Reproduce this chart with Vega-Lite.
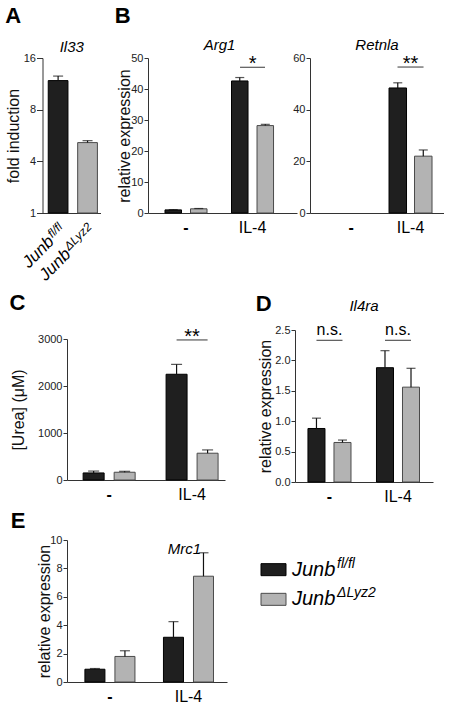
{
  "$schema": "https://vega.github.io/schema/vega-lite/v6.json",
  "background": "white",
  "padding": {"left": 5, "top": 5, "right": 0, "bottom": 0},
  "datasets": {
    "a": [{"geno": "fl", "v": 12.5, "e": 13.2}, {"geno": "d", "v": 5.45, "e": 5.6}],
    "alab": [{"geno": "fl", "main": "Junb", "sup": "fl/fl"}, {"geno": "d", "main": "Junb", "sup": "ΔLyz2"}],
    "arg1": [{"cond": "-", "geno": "fl", "v": 1.0, "e": 1.1}, {"cond": "-", "geno": "d", "v": 1.35, "e": 1.45}, {"cond": "IL-4", "geno": "fl", "v": 42.6, "e": 43.7}, {"cond": "IL-4", "geno": "d", "v": 28.2, "e": 28.6}],
    "arg1sig": [{"cond": "IL-4", "v": 47, "t": "*"}],
    "retnla": [{"cond": "IL-4", "geno": "fl", "v": 48.4, "e": 50.4}, {"cond": "IL-4", "geno": "d", "v": 22, "e": 24.4}],
    "retnlasig": [{"cond": "IL-4", "v": 56.5, "t": "**"}],
    "urea": [{"cond": "-", "geno": "fl", "v": 150, "e": 190}, {"cond": "-", "geno": "d", "v": 165, "e": 185}, {"cond": "IL-4", "geno": "fl", "v": 2250, "e": 2460}, {"cond": "IL-4", "geno": "d", "v": 570, "e": 640}],
    "ureasig": [{"cond": "IL-4", "v": 2980, "t": "**"}],
    "il4ra": [{"cond": "-", "geno": "fl", "v": 0.88, "e": 1.05}, {"cond": "-", "geno": "d", "v": 0.65, "e": 0.69}, {"cond": "IL-4", "geno": "fl", "v": 1.88, "e": 2.16}, {"cond": "IL-4", "geno": "d", "v": 1.56, "e": 1.87}],
    "il4rasig": [{"cond": "-", "v": 2.33, "t": "n.s."}, {"cond": "IL-4", "v": 2.33, "t": "n.s."}],
    "mrc1": [{"cond": "-", "geno": "fl", "v": 0.9, "e": 0.95}, {"cond": "-", "geno": "d", "v": 1.8, "e": 2.2}, {"cond": "IL-4", "geno": "fl", "v": 3.15, "e": 4.25}, {"cond": "IL-4", "geno": "d", "v": 7.45, "e": 9.1}]
  },
  "resolve": {"scale": {"xOffset": "independent"}},
  "spacing": 7,
  "vconcat": [
    {
      "resolve": {"scale": {"xOffset": "independent"}},
      "spacing": -11,
      "hconcat": [
        {
          "width": 33.5, "height": 155,
          "title": {"text": "A", "dx": 0, "dy": -8},
          "data": {"name": "a"},
          "layer": [
            {
              "mark": {"type": "bar", "strokeWidth": 1},
              "encoding": {
                "x": {"field": "geno", "type": "nominal", "scale": {"domain": ["fl", "d"], "range": [-24.5, 33.5], "paddingInner": 0.33, "paddingOuter": 0.15, "align": 0.65}, "axis": {"labels": false, "ticks": false, "title": null}},
                "y": {"field": "v", "type": "quantitative", "scale": {"type": "linear", "domain": [1, 4, 8, 16], "range": [155, 103.33, 51.67, 0], "zero": false, "nice": false}, "axis": {"values": [1, 4, 8, 16], "tickCount": 20, "format": "d", "title": "fold induction", "tickSize": 6, "offset": 24.5, "titlePadding": 2, "labelOverlap": false}},
                "y2": {"datum": 1},
                "fill": {"field": "geno", "type": "nominal", "scale": {"domain": ["fl", "d"], "range": ["#1f1f1f", "#b3b3b3"]}, "legend": null},
                "stroke": {"field": "geno", "type": "nominal", "scale": {"domain": ["fl", "d"], "range": ["#000000", "#4a4a4a"]}, "legend": null}
              }
            },
            {
              "mark": {"type": "rule", "color": "#111", "strokeWidth": 1.2},
              "encoding": {"x": {"field": "geno", "type": "nominal"}, "y": {"field": "v", "type": "quantitative"}, "y2": {"field": "e"}}
            },
            {
              "mark": {"type": "tick", "color": "#111", "thickness": 1.2, "size": 10, "orient": "horizontal"},
              "encoding": {"x": {"field": "geno", "type": "nominal"}, "y": {"field": "e", "type": "quantitative"}}
            },
            {
              "data": {"name": "alab"},
              "mark": {"type": "text", "angle": 315, "align": "right", "baseline": "alphabetic", "fontSize": 12, "fontStyle": "italic", "dx": -6.7, "dy": 13.8},
              "encoding": {"x": {"field": "geno", "type": "nominal"}, "y": {"datum": 1}, "text": {"field": "sup"}}
            },
            {
              "data": {"name": "alab"},
              "transform": [{"filter": "datum.geno === 'fl'"}],
              "mark": {"type": "text", "angle": 315, "align": "right", "baseline": "alphabetic", "fontSize": 17, "fontStyle": "italic", "dx": -23.1, "dy": 18.8},
              "encoding": {"x": {"field": "geno", "type": "nominal"}, "y": {"datum": 1}, "text": {"field": "main"}}
            },
            {
              "data": {"name": "alab"},
              "transform": [{"filter": "datum.geno === 'd'"}],
              "mark": {"type": "text", "angle": 315, "align": "right", "baseline": "alphabetic", "fontSize": 17, "fontStyle": "italic", "dx": -41.1, "dy": 18.8},
              "encoding": {"x": {"field": "geno", "type": "nominal"}, "y": {"datum": 1}, "text": {"field": "main"}}
            },
            {
              "data": {"values": [{"g": "Il33"}]},
              "mark": {"type": "text", "fontSize": 15, "fontStyle": "italic", "baseline": "alphabetic", "dy": -6, "dx": -12},
              "encoding": {"y": {"datum": 16}, "text": {"field": "g"}}
            }
          ]
        },
        {
          "resolve": {"scale": {"xOffset": "independent"}},
          "spacing": -5,
          "hconcat": [
            {
              "width": 149, "height": 155,
              "title": {"text": "B", "dx": -2, "dy": -6},
              "data": {"name": "arg1"},
              "layer": [
                {
                  "mark": {"type": "bar", "strokeWidth": 1},
                  "encoding": {
                    "x": {"field": "cond", "type": "nominal", "scale": {"domain": ["-", "IL-4"], "paddingInner": 0.368, "paddingOuter": 0.304, "align": 0.42}, "axis": {"title": null}},
                    "xOffset": {"field": "geno", "type": "nominal", "scale": {"domain": ["fl", "d"], "paddingInner": 0.353, "paddingOuter": 0}},
                    "y": {"field": "v", "type": "quantitative", "scale": {"domain": [0, 50], "nice": false}, "axis": {"values": [0, 10, 20, 30, 40, 50], "tickCount": 20, "format": "d", "title": "relative expression", "titlePadding": -2, "labelOverlap": false}},
                    "fill": {"field": "geno", "type": "nominal", "legend": null},
                    "stroke": {"field": "geno", "type": "nominal", "legend": null}
                  }
                },
                {
                  "mark": {"type": "rule", "color": "#111", "strokeWidth": 1.2},
                  "encoding": {"x": {"field": "cond", "type": "nominal"}, "xOffset": {"field": "geno", "type": "nominal"}, "y": {"field": "v", "type": "quantitative"}, "y2": {"field": "e"}}
                },
                {
                  "mark": {"type": "tick", "color": "#111", "thickness": 1.2, "size": 9, "orient": "horizontal"},
                  "encoding": {"x": {"field": "cond", "type": "nominal"}, "xOffset": {"field": "geno", "type": "nominal"}, "y": {"field": "e", "type": "quantitative"}}
                },
                {
                  "data": {"name": "arg1sig"},
                  "mark": {"type": "tick", "color": "#111", "thickness": 1.2, "size": 25, "orient": "horizontal"},
                  "encoding": {"x": {"field": "cond", "type": "nominal"}, "y": {"field": "v", "type": "quantitative"}}
                },
                {
                  "data": {"name": "arg1sig"},
                  "mark": {"type": "text", "fontSize": 20, "baseline": "alphabetic", "dy": 3},
                  "encoding": {"x": {"field": "cond", "type": "nominal"}, "y": {"field": "v", "type": "quantitative"}, "text": {"field": "t"}}
                },
                {
                  "data": {"values": [{"g": "Arg1"}]},
                  "mark": {"type": "text", "fontSize": 15, "fontStyle": "italic", "baseline": "alphabetic", "dy": -8, "dx": -3},
                  "encoding": {"y": {"datum": 50}, "text": {"field": "g"}}
                }
              ]
            },
            {
              "width": 134, "height": 155,
              "data": {"name": "retnla"},
              "layer": [
                {
                  "mark": {"type": "bar", "strokeWidth": 1},
                  "encoding": {
                    "x": {"field": "cond", "type": "nominal", "scale": {"domain": ["-", "IL-4"], "paddingInner": 0.277, "paddingOuter": 0.265, "align": 0.62}, "axis": {"title": null}},
                    "xOffset": {"field": "geno", "type": "nominal", "scale": {"domain": ["fl", "d"], "paddingInner": 0.314, "paddingOuter": 0}},
                    "y": {"field": "v", "type": "quantitative", "scale": {"domain": [0, 60], "nice": false}, "axis": {"values": [0, 20, 40, 60], "tickCount": 20, "format": "d", "title": null, "labelOverlap": false}},
                    "fill": {"field": "geno", "type": "nominal", "legend": null},
                    "stroke": {"field": "geno", "type": "nominal", "legend": null}
                  }
                },
                {
                  "mark": {"type": "rule", "color": "#111", "strokeWidth": 1.2},
                  "encoding": {"x": {"field": "cond", "type": "nominal"}, "xOffset": {"field": "geno", "type": "nominal"}, "y": {"field": "v", "type": "quantitative"}, "y2": {"field": "e"}}
                },
                {
                  "mark": {"type": "tick", "color": "#111", "thickness": 1.2, "size": 9, "orient": "horizontal"},
                  "encoding": {"x": {"field": "cond", "type": "nominal"}, "xOffset": {"field": "geno", "type": "nominal"}, "y": {"field": "e", "type": "quantitative"}}
                },
                {
                  "data": {"name": "retnlasig"},
                  "mark": {"type": "tick", "color": "#111", "thickness": 1.2, "size": 26, "orient": "horizontal"},
                  "encoding": {"x": {"field": "cond", "type": "nominal"}, "y": {"field": "v", "type": "quantitative"}}
                },
                {
                  "data": {"name": "retnlasig"},
                  "mark": {"type": "text", "fontSize": 20, "baseline": "alphabetic", "dy": 3},
                  "encoding": {"x": {"field": "cond", "type": "nominal"}, "y": {"field": "v", "type": "quantitative"}, "text": {"field": "t"}}
                },
                {
                  "data": {"values": [{"g": "Retnla"}]},
                  "mark": {"type": "text", "fontSize": 15, "fontStyle": "italic", "baseline": "alphabetic", "dy": -8},
                  "encoding": {"y": {"datum": 60}, "text": {"field": "g"}}
                }
              ]
            }
          ]
        }
      ]
    },
    {
      "resolve": {"scale": {"xOffset": "independent"}},
      "spacing": 6,
      "vconcat": [
        {
          "resolve": {"scale": {"xOffset": "independent"}},
          "spacing": 30,
          "hconcat": [
            {
              "width": 158, "height": 150,
              "title": {"text": "C", "dx": -1, "dy": -8},
              "data": {"name": "urea"},
              "layer": [
                {
                  "mark": {"type": "bar", "strokeWidth": 1},
                  "encoding": {
                    "x": {"field": "cond", "type": "nominal", "scale": {"domain": ["-", "IL-4"], "paddingInner": 0.373, "paddingOuter": 0.139, "align": 0.7}, "axis": {"title": null}},
                    "xOffset": {"field": "geno", "type": "nominal", "scale": {"domain": ["fl", "d"], "paddingInner": 0.323, "paddingOuter": 0}},
                    "y": {"field": "v", "type": "quantitative", "scale": {"domain": [0, 3000], "range": [150, 9], "nice": false}, "axis": {"values": [0, 1000, 2000, 3000], "tickCount": 20, "format": "d", "title": "[Urea] (μM)", "titlePadding": 11, "labelOverlap": false}},
                    "fill": {"field": "geno", "type": "nominal", "legend": null},
                    "stroke": {"field": "geno", "type": "nominal", "legend": null}
                  }
                },
                {
                  "mark": {"type": "rule", "color": "#111", "strokeWidth": 1.2},
                  "encoding": {"x": {"field": "cond", "type": "nominal"}, "xOffset": {"field": "geno", "type": "nominal"}, "y": {"field": "v", "type": "quantitative"}, "y2": {"field": "e"}}
                },
                {
                  "mark": {"type": "tick", "color": "#111", "thickness": 1.2, "size": 11, "orient": "horizontal"},
                  "encoding": {"x": {"field": "cond", "type": "nominal"}, "xOffset": {"field": "geno", "type": "nominal"}, "y": {"field": "e", "type": "quantitative"}}
                },
                {
                  "data": {"name": "ureasig"},
                  "mark": {"type": "tick", "color": "#111", "thickness": 1.2, "size": 31, "orient": "horizontal"},
                  "encoding": {"x": {"field": "cond", "type": "nominal"}, "y": {"field": "v", "type": "quantitative"}}
                },
                {
                  "data": {"name": "ureasig"},
                  "mark": {"type": "text", "fontSize": 20, "baseline": "alphabetic", "dy": 3},
                  "encoding": {"x": {"field": "cond", "type": "nominal"}, "y": {"field": "v", "type": "quantitative"}, "text": {"field": "t"}}
                }
              ]
            },
            {
              "width": 138, "height": 152,
              "title": {"text": "D", "dx": -2, "dy": 21},
              "data": {"name": "il4ra"},
              "layer": [
                {
                  "mark": {"type": "bar", "strokeWidth": 1},
                  "encoding": {
                    "x": {"field": "cond", "type": "nominal", "scale": {"domain": ["-", "IL-4"], "paddingInner": 0.372, "paddingOuter": 0.193, "align": 0.49}, "axis": {"title": null}},
                    "xOffset": {"field": "geno", "type": "nominal", "scale": {"domain": ["fl", "d"], "paddingInner": 0.346, "paddingOuter": 0}},
                    "y": {"field": "v", "type": "quantitative", "scale": {"domain": [0, 2.5], "nice": false}, "axis": {"values": [0, 0.5, 1, 1.5, 2, 2.5], "tickCount": 20, "format": ".1f", "title": "relative expression", "titlePadding": 1, "labelOverlap": false}},
                    "fill": {"field": "geno", "type": "nominal", "legend": null},
                    "stroke": {"field": "geno", "type": "nominal", "legend": null}
                  }
                },
                {
                  "mark": {"type": "rule", "color": "#111", "strokeWidth": 1.2},
                  "encoding": {"x": {"field": "cond", "type": "nominal"}, "xOffset": {"field": "geno", "type": "nominal"}, "y": {"field": "v", "type": "quantitative"}, "y2": {"field": "e"}}
                },
                {
                  "mark": {"type": "tick", "color": "#111", "thickness": 1.2, "size": 9, "orient": "horizontal"},
                  "encoding": {"x": {"field": "cond", "type": "nominal"}, "xOffset": {"field": "geno", "type": "nominal"}, "y": {"field": "e", "type": "quantitative"}}
                },
                {
                  "data": {"name": "il4rasig"},
                  "mark": {"type": "tick", "color": "#111", "thickness": 1.2, "size": 26, "orient": "horizontal"},
                  "encoding": {"x": {"field": "cond", "type": "nominal"}, "y": {"field": "v", "type": "quantitative"}}
                },
                {
                  "data": {"name": "il4rasig"},
                  "mark": {"type": "text", "fontSize": 16, "baseline": "alphabetic", "dy": -5},
                  "encoding": {"x": {"field": "cond", "type": "nominal"}, "y": {"field": "v", "type": "quantitative"}, "text": {"field": "t"}}
                },
                {
                  "data": {"values": [{"g": "Il4ra"}]},
                  "mark": {"type": "text", "fontSize": 15, "fontStyle": "italic", "baseline": "alphabetic", "dy": -19},
                  "encoding": {"y": {"datum": 2.5}, "text": {"field": "g"}}
                }
              ]
            }
          ]
        },
        {
          "resolve": {"scale": {"xOffset": "independent"}},
          "spacing": 31.5,
          "hconcat": [
            {
              "width": 160, "height": 142,
              "title": {"text": "E", "dx": -26, "dy": 3},
              "data": {"name": "mrc1"},
              "layer": [
                {
                  "mark": {"type": "bar", "strokeWidth": 1},
                  "encoding": {
                    "x": {"field": "cond", "type": "nominal", "scale": {"domain": ["-", "IL-4"], "paddingInner": 0.363, "paddingOuter": 0.2, "align": 0.57}, "axis": {"title": null}},
                    "xOffset": {"field": "geno", "type": "nominal", "scale": {"domain": ["fl", "d"], "paddingInner": 0.333, "paddingOuter": 0}},
                    "y": {"field": "v", "type": "quantitative", "scale": {"domain": [0, 10], "nice": false}, "axis": {"values": [0, 2, 4, 6, 8, 10], "tickCount": 20, "format": "d", "title": "relative expression", "titlePadding": -3, "labelOverlap": false}},
                    "fill": {"field": "geno", "type": "nominal", "legend": null},
                    "stroke": {"field": "geno", "type": "nominal", "legend": null}
                  }
                },
                {
                  "mark": {"type": "rule", "color": "#111", "strokeWidth": 1.2},
                  "encoding": {"x": {"field": "cond", "type": "nominal"}, "xOffset": {"field": "geno", "type": "nominal"}, "y": {"field": "v", "type": "quantitative"}, "y2": {"field": "e"}}
                },
                {
                  "mark": {"type": "tick", "color": "#111", "thickness": 1.2, "size": 10, "orient": "horizontal"},
                  "encoding": {"x": {"field": "cond", "type": "nominal"}, "xOffset": {"field": "geno", "type": "nominal"}, "y": {"field": "e", "type": "quantitative"}}
                },
                {
                  "data": {"values": [{"g": "Mrc1", "cond": "IL-4"}]},
                  "mark": {"type": "text", "fontSize": 15, "fontStyle": "italic", "baseline": "alphabetic", "dy": 14, "dx": -4},
                  "encoding": {"x": {"field": "cond", "type": "nominal"}, "y": {"datum": 10}, "text": {"field": "g"}}
                }
              ]
            },
            {
              "width": 20, "height": 89,
              "data": {"name": "alab"},
              "layer": [
                {
                  "mark": {"type": "point", "shape": "M-1,-0.48H1V0.48H-1Z", "size": 625, "filled": true, "opacity": 1, "strokeWidth": 1},
                  "encoding": {
                    "y": {"field": "geno", "type": "nominal", "scale": {"type": "point", "domain": ["fl", "d"], "padding": 1.28}, "axis": null},
                    "fill": {"field": "geno", "type": "nominal", "legend": null},
                    "stroke": {"field": "geno", "type": "nominal", "legend": null}
                  }
                },
                {
                  "mark": {"type": "text", "align": "left", "baseline": "alphabetic", "fontSize": 20, "fontStyle": "italic", "dx": 18.5, "dy": 6},
                  "encoding": {"y": {"field": "geno", "type": "nominal"}, "text": {"field": "main"}}
                },
                {
                  "mark": {"type": "text", "align": "left", "baseline": "alphabetic", "fontSize": 14, "fontStyle": "italic", "dx": 63.5, "dy": -2},
                  "encoding": {"y": {"field": "geno", "type": "nominal"}, "text": {"field": "sup"}}
                }
              ]
            }
          ]
        }
      ]
    }
  ],
  "config": {
    "font": "Liberation Sans",
    "view": {"stroke": null},
    "title": {"font": "Liberation Sans", "fontSize": 22, "fontWeight": "bold", "anchor": "start", "frame": "bounds", "offset": 0, "color": "#000"},
    "text": {"font": "Liberation Sans", "color": "#000"},
    "axis": {"grid": false, "labelFont": "Liberation Sans", "titleFont": "Liberation Sans", "labelFontSize": 11, "titleFontSize": 16, "titleFontWeight": "normal", "tickSize": 4, "labelPadding": 1, "titlePadding": 4, "labelOverlap": false, "domainColor": "#333", "tickColor": "#333", "labelColor": "#222", "titleColor": "#111"},
    "axisY": {"labelOverlap": false},
    "axisX": {"labelFontSize": 16, "ticks": false, "labelAngle": 0, "labelPadding": 6, "labelColor": "#000", "labelFontWeight": {"condition": {"test": "datum.value === '-'", "value": "bold"}, "value": "normal"}}
  }
}
